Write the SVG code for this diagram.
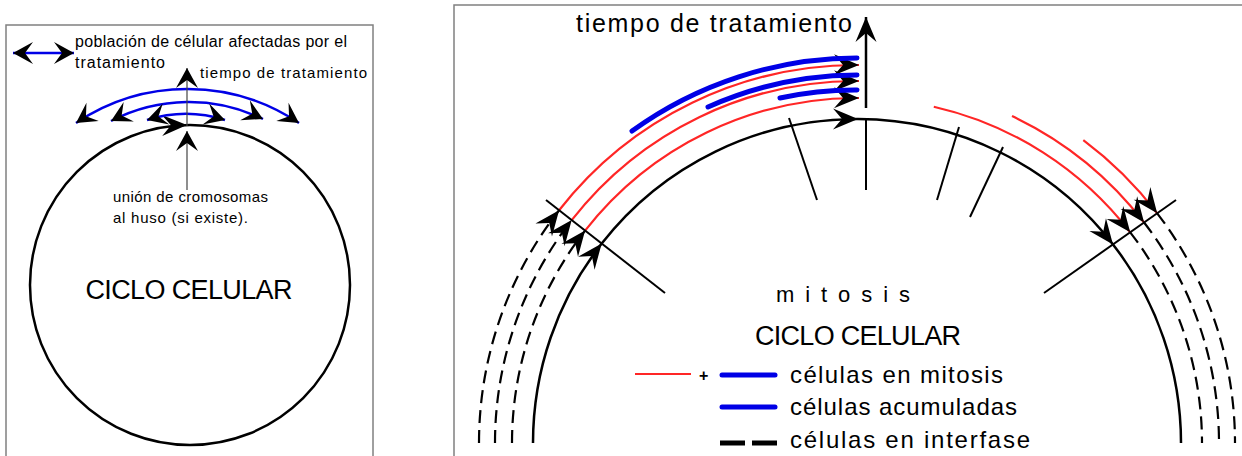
<svg xmlns="http://www.w3.org/2000/svg" width="1242" height="456" viewBox="0 0 1242 456">
<style>
.frame{fill:none;stroke:#808080;stroke-width:1.5}
.blk{fill:none;stroke:#000;stroke-width:2.5}
.red{fill:none;stroke:#ff2626;stroke-width:2.2}
.blue{fill:none;stroke:#0000e6;stroke-width:5;stroke-linecap:round}
.blueT{fill:none;stroke:#0000e6;stroke-width:2.5}
.dash{fill:none;stroke:#000;stroke-width:2.2;stroke-dasharray:13 7}
.tick{fill:none;stroke:#000;stroke-width:2}
.thin{fill:none;stroke:#444;stroke-width:1.2}
text{font-family:"Comic Sans MS","Liberation Sans",sans-serif;fill:#000}
</style>
<defs>
<marker id="ah" markerUnits="userSpaceOnUse" viewBox="-26 -12 28 24" markerWidth="28" markerHeight="24" refX="0" refY="0" orient="auto" overflow="visible">
<path d="M0,0 L-25,-10.5 L-16,0 L-25,10.5 Z" fill="#000"/>
</marker>
<marker id="ahs" markerUnits="userSpaceOnUse" viewBox="-22 -12 24 24" markerWidth="24" markerHeight="24" refX="0" refY="0" orient="auto-start-reverse" overflow="visible">
<path d="M0,0 L-20,-11 L-12,0 L-20,11 Z" fill="#000"/>
</marker>
</defs>

<g id="left-panel">
<rect class="frame" x="6" y="25" width="367" height="440"/>
<g id="legend-left">
<line class="blueT" x1="13" y1="53" x2="74" y2="53" marker-start="url(#ahs)" marker-end="url(#ahs)"/>
<text x="75" y="47" font-size="16" textLength="272">población de célular afectadas por el</text>
<text x="75" y="68" font-size="16" textLength="90">tratamiento</text>
</g>
<g id="cycle-left">
<circle class="blk" cx="190" cy="285" r="160"/>
<path d="M150,130.1 A160,160 0 0 1 187,125.03" fill="none" stroke="none" marker-end="url(#ah)"/>
<text x="189" y="299" font-size="27" text-anchor="middle" textLength="207">CICLO CELULAR</text>
</g>
<g id="treatment-left">
<path class="blueT" d="M76,123 A200,200 0 0 1 299,123" marker-start="url(#ahs)" marker-end="url(#ahs)"/>
<path class="blueT" d="M111,121 A169,169 0 0 1 263,119" marker-start="url(#ahs)" marker-end="url(#ahs)"/>
<path class="blueT" d="M147,120 A130,130 0 0 1 225,120" marker-start="url(#ahs)" marker-end="url(#ahs)"/>
<line class="thin" x1="187" y1="126" x2="187" y2="68" marker-end="url(#ahs)"/>
<text x="200" y="78" font-size="15" textLength="167">tiempo de tratamiento</text>
</g>
<g id="union-left">
<line class="thin" x1="187" y1="190" x2="187" y2="131" marker-end="url(#ahs)"/>
<text x="113" y="202" font-size="15" textLength="155">unión de cromosomas</text>
<text x="113" y="223" font-size="15" textLength="135">al huso (si existe).</text>
</g>
</g>

<g id="right-panel">
<rect class="frame" x="454" y="5" width="800" height="460"/>

<g id="connectors">
<path class="blk" d="M533,443 A324,324 0 0 1 601.7,243.5" marker-end="url(#ah)"/>
<path class="blk" d="M601.7,243.5 A324,324 0 0 1 858,119" marker-end="url(#ah)"/>
<path class="blk" d="M858,119 A324,324 0 0 1 1113,244.4" marker-end="url(#ah)"/>
<path class="blk" d="M1113,244.4 A324,324 0 0 1 1181,443"/>
<path class="dash" d="M479,443 A378,378 0 0 1 559.1,210.3" marker-end="url(#ah)"/>
<path class="dash" d="M495,443 A362,362 0 0 1 571.7,220.1" marker-end="url(#ah)"/>
<path class="dash" d="M512,443 A345,345 0 0 1 585.1,230.6" marker-end="url(#ah)"/>
<path class="red" d="M559.1,210.3 A378,378 0 0 1 859,65" marker-end="url(#ah)"/>
<path class="red" d="M571.7,220.1 A362,362 0 0 1 859,81" marker-end="url(#ah)"/>
<path class="red" d="M585.1,230.6 A345,345 0 0 1 859,98" marker-end="url(#ah)"/>
<path class="blue" d="M632,131 A385,385 0 0 1 857,58"/>
<path class="blue" d="M708,107 A368,368 0 0 1 857,75"/>
<path class="blue" d="M780,98 A353,353 0 0 1 857,90"/>
<path class="red" d="M933.8,106.7 A345,345 0 0 1 1130.2,232.3" marker-end="url(#ah)"/>
<path class="red" d="M1012,116 A362,362 0 0 1 1144.1,222.5" marker-end="url(#ah)"/>
<path class="red" d="M1083.3,140.2 A378,378 0 0 1 1157.2,213.3" marker-end="url(#ah)"/>
<path class="dash" d="M1130.2,232.3 A345,345 0 0 1 1202,443"/>
<path class="dash" d="M1144.1,222.5 A362,362 0 0 1 1219,443"/>
<path class="dash" d="M1157.2,213.3 A378,378 0 0 1 1235,443"/>
<line class="tick" x1="866" y1="119" x2="866" y2="190"/>
<line class="tick" x1="789" y1="118" x2="817" y2="200"/>
<line class="tick" x1="959" y1="127" x2="937" y2="200"/>
<line class="tick" x1="1003" y1="147" x2="970" y2="217"/>
<line class="tick" x1="546" y1="200" x2="665" y2="293"/>
<line class="tick" x1="1176" y1="200" x2="1044" y2="293"/>
<line class="blk" x1="866" y1="108" x2="866" y2="17" marker-end="url(#ah)"/>
</g>

<g id="labels-right">
<text x="576" y="32" font-size="25" textLength="276">tiempo de tratamiento</text>
<text x="776" y="302" font-size="22" textLength="134">m i t o s i s</text>
<text x="755" y="345" font-size="27" textLength="206">CICLO CELULAR</text>
</g>

<g id="legend-right">
<line x1="635" y1="374" x2="691" y2="374" stroke="#ff2626" stroke-width="2"/>
<text x="699" y="381" font-size="16" font-weight="bold">+</text>
<line class="blue" x1="722" y1="375" x2="775" y2="375"/>
<text x="790" y="383" font-size="24" textLength="213">células en mitosis</text>
<line class="blue" x1="722" y1="407" x2="775" y2="407"/>
<text x="790" y="415" font-size="24" textLength="227">células acumuladas</text>
<line x1="720" y1="443" x2="777" y2="443" stroke="#000" stroke-width="5" stroke-dasharray="25 7"/>
<text x="790" y="448" font-size="24" textLength="240">células en interfase</text>
</g>
</g>
</svg>
